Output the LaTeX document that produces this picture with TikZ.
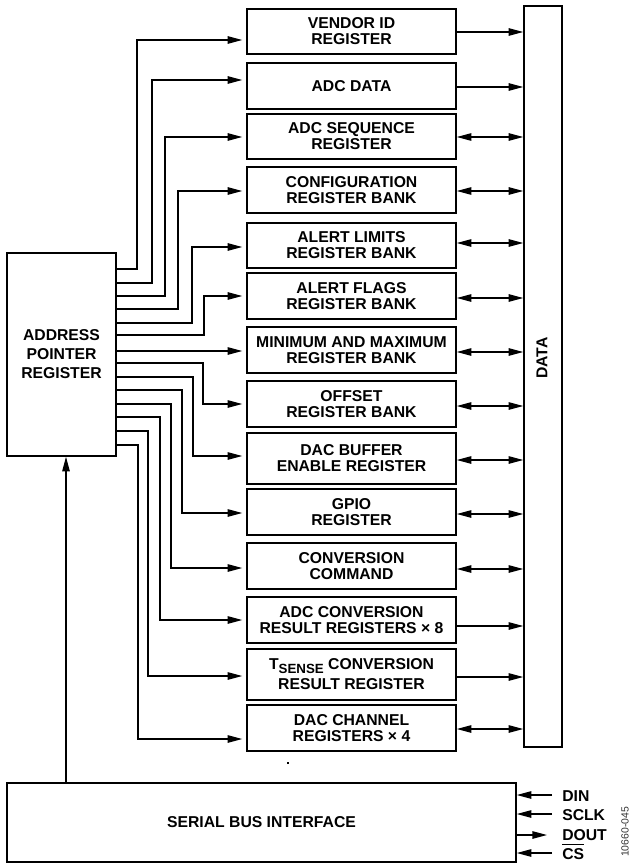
\documentclass[tikz,border=0pt]{standalone}
\usepackage{fontspec}
\setmainfont{Liberation Sans}
\usetikzlibrary{arrows.meta,calc}
\begin{document}
\begin{tikzpicture}[x=0.75pt,y=-0.75pt,
  lbl/.style={font=\fontsize{11.8}{12}\selectfont\bfseries},
  reg/.style={draw,line width=1.1pt,minimum width=156.75pt,align=center,inner sep=0pt,lbl},
  conn/.style={line width=1pt,-{Triangle[length=11pt,width=5.6pt]}},
  bidir/.style={line width=1pt,{Triangle[length=11pt,width=5.6pt]}-{Triangle[length=11pt,width=5.6pt]}},
  pin/.style={lbl,anchor=base west,inner sep=0pt}
]
\useasboundingbox (0,0) rectangle (632,863);

% register boxes
\node[reg,minimum height=33.75pt] (r1) at (351.5,31.5) {VENDOR ID\\REGISTER};
\node[reg,minimum height=34.5pt] (r2) at (351.5,86) {ADC DATA};
\node[reg,minimum height=33.75pt] (r3) at (351.5,136.5) {ADC SEQUENCE\\REGISTER};
\node[reg,minimum height=34.5pt] (r4) at (351.5,190) {CONFIGURATION\\REGISTER BANK};
\node[reg,minimum height=33.75pt] (r5) at (351.5,245.5) {ALERT LIMITS\\REGISTER BANK};
\node[reg,minimum height=34.5pt] (r6) at (351.5,296) {ALERT FLAGS\\REGISTER BANK};
\node[reg,minimum height=34.5pt] (r7) at (351.5,350) {MINIMUM AND MAXIMUM\\REGISTER BANK};
\node[reg,minimum height=34.5pt] (r8) at (351.5,404) {OFFSET\\REGISTER BANK};
\node[reg,minimum height=38.25pt] (r9) at (351.5,458.5) {DAC BUFFER\\ENABLE REGISTER};
\node[reg,minimum height=34.5pt] (r10) at (351.5,512) {GPIO\\REGISTER};
\node[reg,minimum height=34.5pt] (r11) at (351.5,566) {CONVERSION\\COMMAND};
\node[reg,minimum height=34.5pt] (r12) at (351.5,620) {ADC CONVERSION\\RESULT REGISTERS × 8};
\node[reg,minimum height=38.25pt] (r13) at (351.5,674.5) {T\raisebox{-3pt}{\fontsize{10}{10}\selectfont SENSE} CONVERSION\\[3pt]RESULT REGISTER};
\node[reg,minimum height=34.5pt] (r14) at (351.5,728) {DAC CHANNEL\\REGISTERS × 4};

% data bus
\node[draw,line width=1.1pt,minimum width=28.5pt,minimum height=555.75pt,inner sep=0pt] (bus) at (543,376.5) {};
\node[lbl,rotate=90] (datalbl) at (542,358) {DATA};

\foreach \i/\y in {1/32,2/87,12/626,13/677}
  \draw[conn] (r\i.east |- 0,\y) -- (bus.west |- 0,\y);
\foreach \i/\y in {3/137,4/191,5/243,6/298,7/352,8/406,9/460,10/514,11/569,14/729}
  \draw[bidir] (r\i.east |- 0,\y) -- (bus.west |- 0,\y);

% address pointer
\node[reg,minimum width=81.75pt,minimum height=152.25pt,font=\fontsize{11.8}{14.25}\selectfont\bfseries] (addr) at (61.5,354.5) {ADDRESS\\POINTER\\REGISTER};

\foreach \i/\e/\vx/\t in {1/269/137/40, 2/283/152/80, 3/296/165/137, 4/309/178/191, 5/323/192/247, 6/335/204/296, 8/363/203/404, 9/377/193/456, 10/390/182/513, 11/404/171/568, 12/417/160/620, 13/431/148/676, 14/445/138/739}
  \draw[conn,shorten >=3pt] (addr.east |- 0,\e) -| (\vx,\t) -- (r\i.west |- 0,\t);
\draw[conn,shorten >=3pt] (addr.east |- 0,351) -- (r7.west |- 0,351);

% serial bus interface
\node[draw,line width=1.1pt,minimum width=381.75pt,minimum height=59.25pt,inner sep=0pt,lbl] (serial) at (261.5,822.5) {SERIAL BUS INTERFACE};
\draw[conn] (serial.north -| 66,0) -- (addr.south -| 66,0);

\fill (287,762) rectangle (289,764);

% pins
\node[pin] (din) at (562,801) {DIN};
\node[pin] (sclk) at (562,820) {SCLK};
\node[pin] (dout) at (562,840) {DOUT};
\node[pin] (cs) at (562,859) {CS};
\draw[line width=0.8pt] ([yshift=2.5pt]cs.north west) -- ([yshift=2.5pt]cs.north east);

\draw[conn] (552,795) -- (serial.east |- 0,795);
\draw[conn] (552,814) -- (serial.east |- 0,814);
\draw[conn] (serial.east |- 0,835) -- (547,835);
\draw[conn] (552,853) -- (serial.east |- 0,853);

\node[rotate=90,font=\fontsize{7.8}{8}\selectfont,text=black!80] (ref) at (625,832) {10660-045};
\end{tikzpicture}
\end{document}
